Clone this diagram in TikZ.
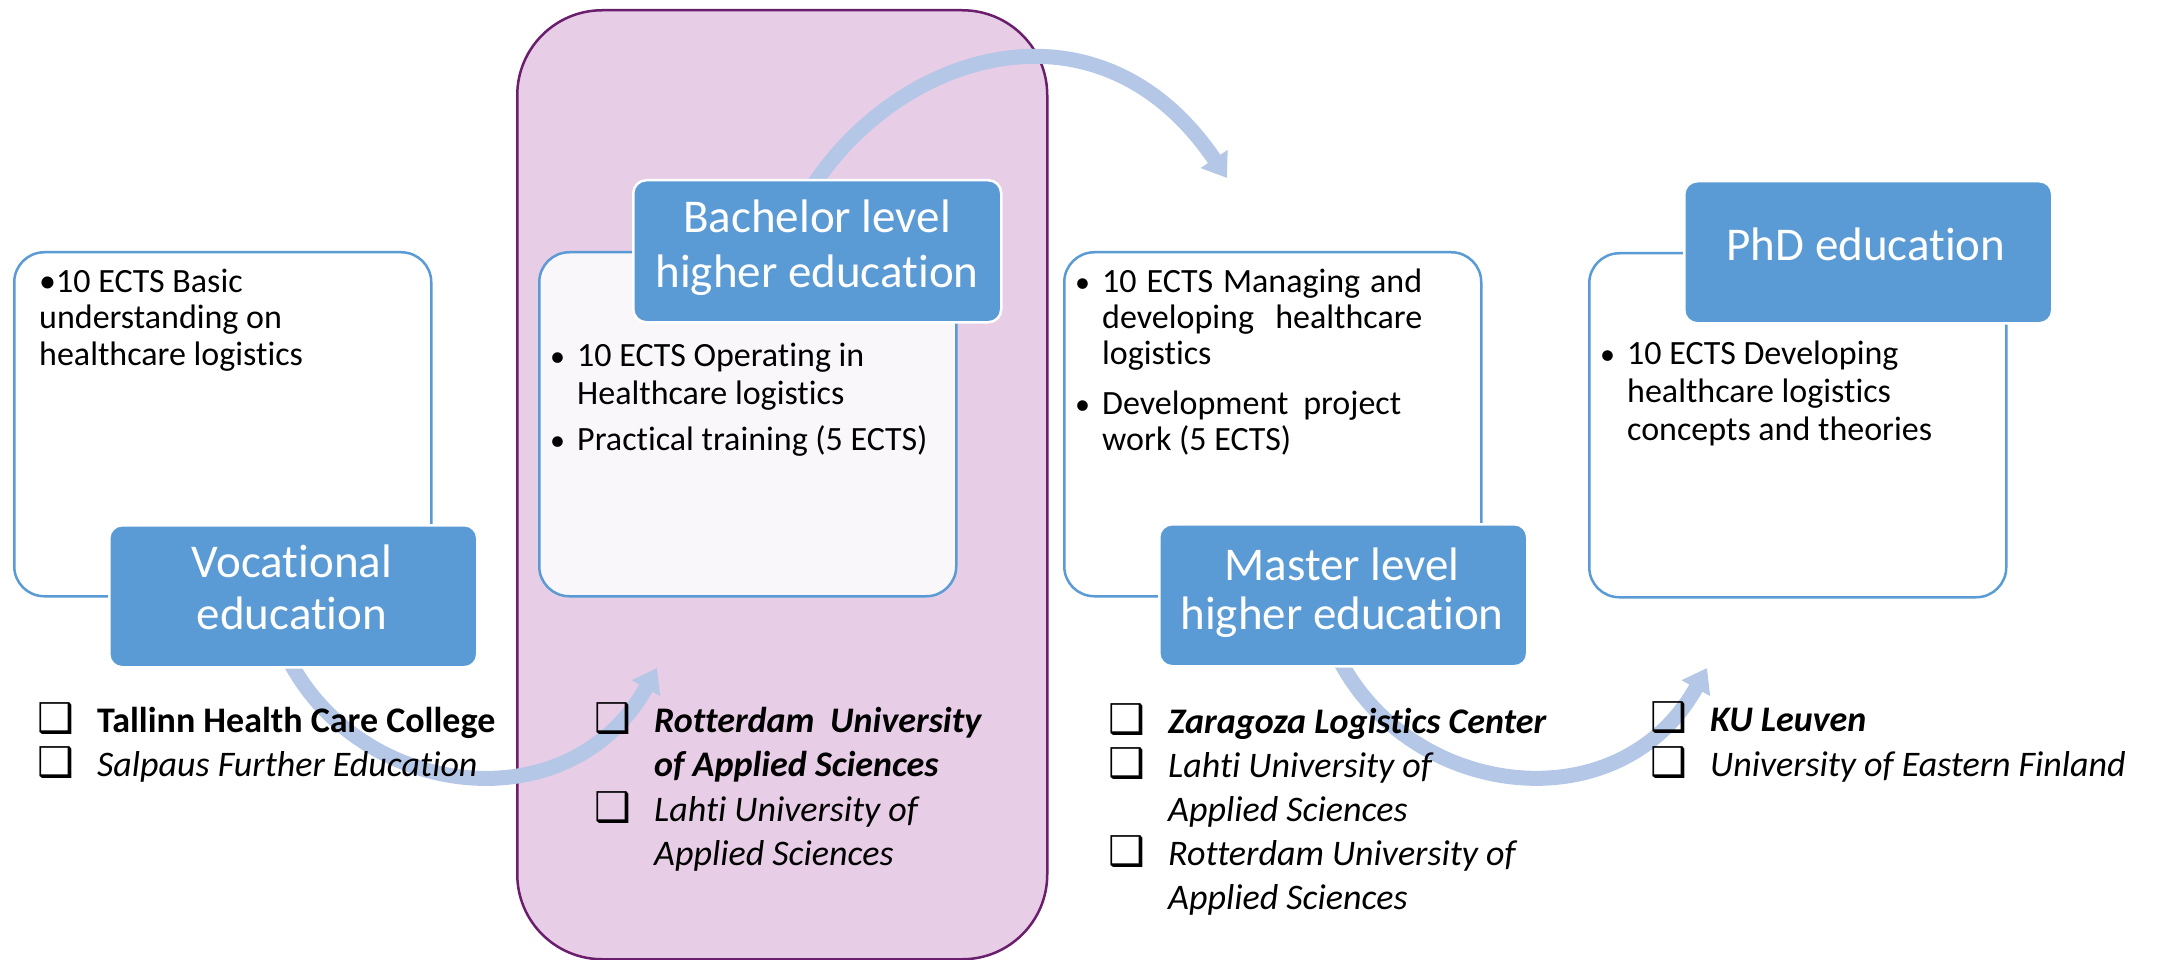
\documentclass[tikz,border=0pt]{standalone}
\usepackage{fontspec}
\setmainfont{Carlito}[Ligatures=NoCommon]
\newfontfamily\dvs{DejaVu Sans}
\usetikzlibrary{arrows.meta}
\pgfdeclarelayer{bg}
\pgfdeclarelayer{arr}
\pgfsetlayers{bg,arr,main}
\definecolor{boxblue}{HTML}{5B9BD5}
\definecolor{arrowblue}{HTML}{B4C7E7}
\definecolor{purplefill}{HTML}{E7CDE6}
\definecolor{purpleline}{HTML}{6B1E6E}
\definecolor{lavwhite}{HTML}{FAF7FA}
\newcommand\vlines[2]{\vtop{\baselineskip=#1\relax\lineskiplimit=-100pt\relax\lineskip=0pt\relax\halign{##\hfil\cr#2\crcr}}}
\newcommand\clines[2]{\vtop{\baselineskip=#1\relax\lineskiplimit=-100pt\relax\lineskip=0pt\relax\halign{\hfil##\hfil\cr#2\crcr}}}
\newcommand\llines[2]{\vtop{\baselineskip=#1\relax\lineskiplimit=-100pt\relax\lineskip=0pt\relax\halign{##\hfil&##\hfil\cr#2\crcr}}}
\newcommand\chk{\hbox to 58pt{\kern-2pt{\dvs\bfseries\fontsize{41}{41}\selectfont ❑}\hfil}}
\newcommand\bul{\hbox to 17pt{\kern-10pt{\fontsize{30}{30}\selectfont•}\hfil}}
\newcommand\ind{\hbox to 17pt{\hfil}}
\begin{document}
\begin{tikzpicture}[x=1pt,y=-1pt,
  wbox/.style={draw=boxblue, line width=2.5pt, fill=white, rounded corners=30pt,
    minimum width=417pt, minimum height=344pt, anchor=north west, inner sep=0pt},
  bbox/.style={draw=white, line width=2.5pt, fill=boxblue, rounded corners=13pt,
    minimum width=368pt, minimum height=142pt, anchor=north west, inner sep=0pt},
  pbox/.style={draw=purpleline, line width=2.5pt, fill=purplefill, rounded corners=85pt,
    minimum width=530pt, minimum height=949pt, anchor=north west, inner sep=0pt},
  btxt/.style={anchor=base west, inner sep=0pt, font=\fontsize{34}{36}\selectfont},
  ltxt/.style={anchor=base west, inner sep=0pt, font=\fontsize{36}{44}\selectfont},
  lab/.style={anchor=base, inner sep=0pt, text=white, font=\fontsize{47}{52}\selectfont},
  arr/.style={draw=arrowblue, line width=15pt, -{Triangle[width=31pt,length=23pt]}}]
\useasboundingbox (0,0) rectangle (2161,960);
\begin{pgfonlayer}{bg}
\fill[white] (0,0) rectangle (2161,960);
\node[pbox] (purple) at (516,9) {};
\end{pgfonlayer}
% white boxes
\node[wbox] (vocw) at (13,251) {};
\node[wbox, fill=lavwhite] (bachw) at (538,251) {};
\node[wbox] (mastw) at (1063,251) {};
\node[wbox] (phdw) at (1588,252) {};
% blue boxes
\node[bbox] (vocb) at (108,524) {};
\node[bbox] (bachb) at (632,179) {};
\node[bbox] (mastb) at (1158,523) {};
\node[bbox] (phdb) at (1683,180) {};
% blue labels
\node[lab] (voclab) at (292,577.5) {\clines{51.5pt}{Vocational\cr education}};
\node[lab] (bachlab) at (817,233) {\clines{55pt}{Bachelor level\cr higher education}};
\node[lab] (mastlab) at (1342,580) {\clines{49pt}{Master level\cr higher education}};
\node[lab] (phdlab) at (1866,261) {PhD education};
% box texts
\node[btxt] (voct) at (39,292) {\vlines{36.5pt}{•10 ECTS Basic\cr understanding on\cr healthcare logistics}};
\node[btxt] (bacht) at (560,366) {\vlines{38pt}{\bul 10 ECTS Operating in\cr\ind Healthcare logistics\cr\noalign{\vskip8pt}\bul Practical training (5 ECTS)}};
\node[btxt] (mastt) at (1085,292) {\vlines{36pt}{\bul\hbox to 320pt{10 ECTS Managing and}\cr\ind\hbox to 320pt{developing healthcare}\cr\ind logistics\cr\noalign{\vskip14pt}\bul\hbox to 299pt{Development project}\cr\ind work (5 ECTS)}};
\node[btxt] (phdt) at (1610,364) {\vlines{38pt}{\bul 10 ECTS Developing\cr\ind healthcare logistics\cr\ind concepts and theories}};
% lists
\node[ltxt] (vocl) at (39,732) {\llines{44.5pt}{\chk&\textbf{Tallinn Health Care College}\cr\chk&\textit{Salpaus Further Education}}};
\node[ltxt] (bachl) at (596,732) {\llines{44.5pt}{\chk&\textbf{\textit{\hbox to 327pt{Rotterdam University}}}\cr&\textbf{\textit{of Applied Sciences}}\cr\chk&\textit{Lahti University of}\cr&\textit{Applied Sciences}}};
\node[ltxt] (mastl) at (1110,733) {\llines{44pt}{\chk&\textbf{\textit{Zaragoza Logistics Center}}\cr\chk&\textit{Lahti University of}\cr&\textit{Applied Sciences}\cr\chk&\textit{Rotterdam University of}\cr&\textit{Applied Sciences}}};
\node[ltxt] (phdl) at (1652,731) {\llines{45pt}{\chk&\textbf{\textit{KU Leuven}}\cr\chk&\textit{University of Eastern Finland}}};
% arrow ends
\coordinate (a1) at (657,668);
\coordinate (a2) at (1227,178);
\coordinate (a3) at (1707,668);
\begin{pgfonlayer}{arr}
\draw[arr, shorten <=-12pt] (vocb.south) .. controls (360,800) and (570,825) .. (a1);
\draw[arr, shorten <=-12pt] (bachb.north) .. controls (900,50) and (1100,-10) .. (a2);
\draw[arr, shorten <=-12pt] (mastb.south) .. controls (1410,800) and (1620,825) .. (a3);
\end{pgfonlayer}
\end{tikzpicture}
\end{document}
